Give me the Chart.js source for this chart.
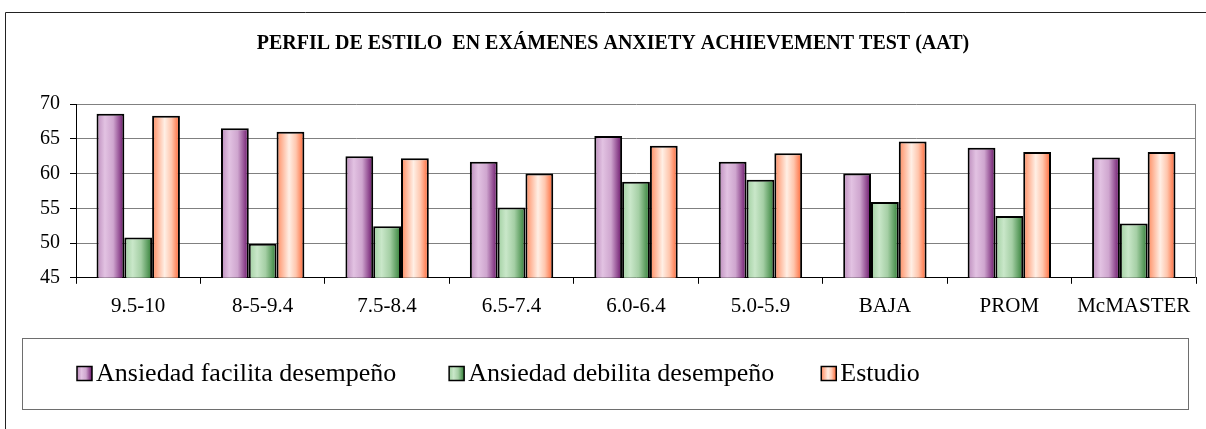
<!DOCTYPE html>
<html>
<head>
<meta charset="utf-8">
<script src="https://cdn.jsdelivr.net/npm/chart.js@4.4.1/dist/chart.umd.min.js"></script>
<style>
  html, body { margin: 0; padding: 0; background: #fff; }
  canvas { display: block; }
</style>
</head>
<body>
<canvas id="aatChart" width="1206" height="429"></canvas>
<script>
// ===========================
// AAT style profile chart
// ===========================

const chartTitle = 'PERFIL DE ESTILO  EN EXÁMENES ANXIETY ACHIEVEMENT TEST (AAT)';
const categories = ['9.5-10', '8-5-9.4', '7.5-8.4', '6.5-7.4', '6.0-6.4', '5.0-5.9', 'BAJA', 'PROM', 'McMASTER'];
const seriesNames = ['Ansiedad facilita desempeño', 'Ansiedad debilita desempeño', 'Estudio'];
const facilitaValues = [68.6, 66.5, 62.5, 61.7, 65.4, 61.7, 60.0, 63.7, 62.3];
const debilitaValues = [50.8, 49.9, 52.4, 55.1, 58.8, 59.1, 55.9, 53.9, 52.8];
const estudioValues = [68.3, 66.0, 62.2, 60.0, 64.0, 62.9, 64.6, 63.1, 63.1];
const yTicks = { min: 45, max: 70, step: 5 };

const serif = "'Liberation Serif', 'Times New Roman', serif";

// horizontal shading for each series (like the old office "cylinder" fill)
const barStops = [
    [[0, '#bb8bbb'], [0.3, '#e2c2e2'], [0.6, '#cfa6cf'], [1, '#681068']],
    [[0, '#a0cfa0'], [0.3, '#c9e7c9'], [0.6, '#a5cfa5'], [1, '#2f7d34']],
    [[0, '#ff8a5e'], [0.45, '#ffefe5'], [0.7, '#ffc6ad'], [1, '#ff6230']]
];
const swatchColors = ['#d7b0d7', '#b8deb8', '#ffcdb8'];

// fill each bar with its own gradient, once bars have positions
const shadingPlugin = {
    id: 'shading',
    beforeDatasetsDraw(chart) {
        const ctx = chart.ctx;
        chart.data.datasets.forEach((ds, i) => {
            chart.getDatasetMeta(i).data.forEach(bar => {
                const g = ctx.createLinearGradient(bar.x - bar.width / 2, 0, bar.x + bar.width / 2, 0);
                barStops[i].forEach(s => g.addColorStop(s[0], s[1]));
                bar.options = Object.assign({}, bar.options, { backgroundColor: g });
            });
        });
    }
};

// outer frame, plot-area right edge, boxed legend
const framePlugin = {
    id: 'frame',
    beforeDatasetsDraw(chart) {
        const { ctx, chartArea } = chart;
        ctx.save();
        ctx.strokeStyle = '#808080';
        ctx.lineWidth = 1;
        ctx.beginPath();
        ctx.moveTo(Math.round(chartArea.right) - 0.5, chartArea.top);
        ctx.lineTo(Math.round(chartArea.right) - 0.5, chartArea.bottom);
        ctx.stroke();
        ctx.restore();
    },
    afterDraw(chart) {
        const ctx = chart.ctx;
        ctx.save();
        // chart border (cropped on the right and bottom)
        ctx.strokeStyle = '#222';
        ctx.lineWidth = 1;
        ctx.beginPath();
        ctx.moveTo(5.5, chart.height);
        ctx.lineTo(5.5, 12.5);
        ctx.lineTo(chart.width, 12.5);
        ctx.stroke();

        // legend box
        const top = chart.scales.x.bottom + 9;
        const left = 22;
        const right = chart.width - 18;
        const bottom = top + 71;
        ctx.strokeStyle = '#6e6e6e';
        ctx.strokeRect(left + 0.5, top + 0.5, right - left, bottom - top);

        ctx.font = '26px ' + serif;
        ctx.textBaseline = 'middle';
        ctx.textAlign = 'left';
        const widths = seriesNames.map(n => ctx.measureText(n).width);
        const colW = Math.max(...widths) + 18 + 48;
        const cy = (top + bottom) / 2;
        seriesNames.forEach((name, i) => {
            const x = left + 55 + i * colW;
            const sw = ctx.createLinearGradient(x, 0, x + 15, 0);
            barStops[i].forEach(s => sw.addColorStop(s[0], s[1]));
            ctx.fillStyle = sw;
            ctx.fillRect(x, cy - 7, 15, 14);
            ctx.strokeStyle = '#000';
            ctx.lineWidth = 1.5;
            ctx.strokeRect(x, cy - 7, 15, 14);
            ctx.fillStyle = '#000';
            ctx.fillText(name, x + 19, cy + 1);
        });
        ctx.restore();
    }
};

function makeDataset(label, data, i) {
    return {
        label: label,
        data: data,
        backgroundColor: swatchColors[i],
        borderColor: '#000',
        borderWidth: 2,
        borderSkipped: 'bottom',
        categoryPercentage: 0.67,
        barPercentage: 1.0
    };
}

const ctx = document.getElementById('aatChart').getContext('2d');

new Chart(ctx, {
    type: 'bar',
    data: {
        labels: categories,
        datasets: [
            makeDataset(seriesNames[0], facilitaValues, 0),
            makeDataset(seriesNames[1], debilitaValues, 1),
            makeDataset(seriesNames[2], estudioValues, 2)
        ]
    },
    plugins: [shadingPlugin, framePlugin],
    options: {
        responsive: false,
        animation: false,
        layout: {
            padding: { left: 30, right: 10, top: 0, bottom: 100 }
        },
        plugins: {
            legend: { display: false },
            tooltip: { enabled: false },
            title: {
                display: true,
                text: chartTitle,
                color: '#000',
                font: { family: serif, size: 20, weight: 'bold' },
                padding: { top: 32, bottom: 48 }
            }
        },
        scales: {
            x: {
                grid: {
                    display: true,
                    drawOnChartArea: false,
                    drawTicks: true,
                    tickLength: 6,
                    color: '#000'
                },
                border: { color: '#000', width: 1 },
                ticks: {
                    color: '#000',
                    padding: 10,
                    maxRotation: 0,
                    autoSkip: false,
                    font: { family: serif, size: 21 }
                }
            },
            y: {
                min: yTicks.min,
                max: yTicks.max,
                grid: {
                    color: '#808080',
                    lineWidth: 1,
                    tickLength: 6,
                    tickColor: '#000'
                },
                border: { color: '#000', width: 1 },
                ticks: {
                    stepSize: yTicks.step,
                    color: '#000',
                    padding: 10,
                    font: { family: serif, size: 20 }
                }
            }
        }
    }
});
</script>
</body>
</html>
